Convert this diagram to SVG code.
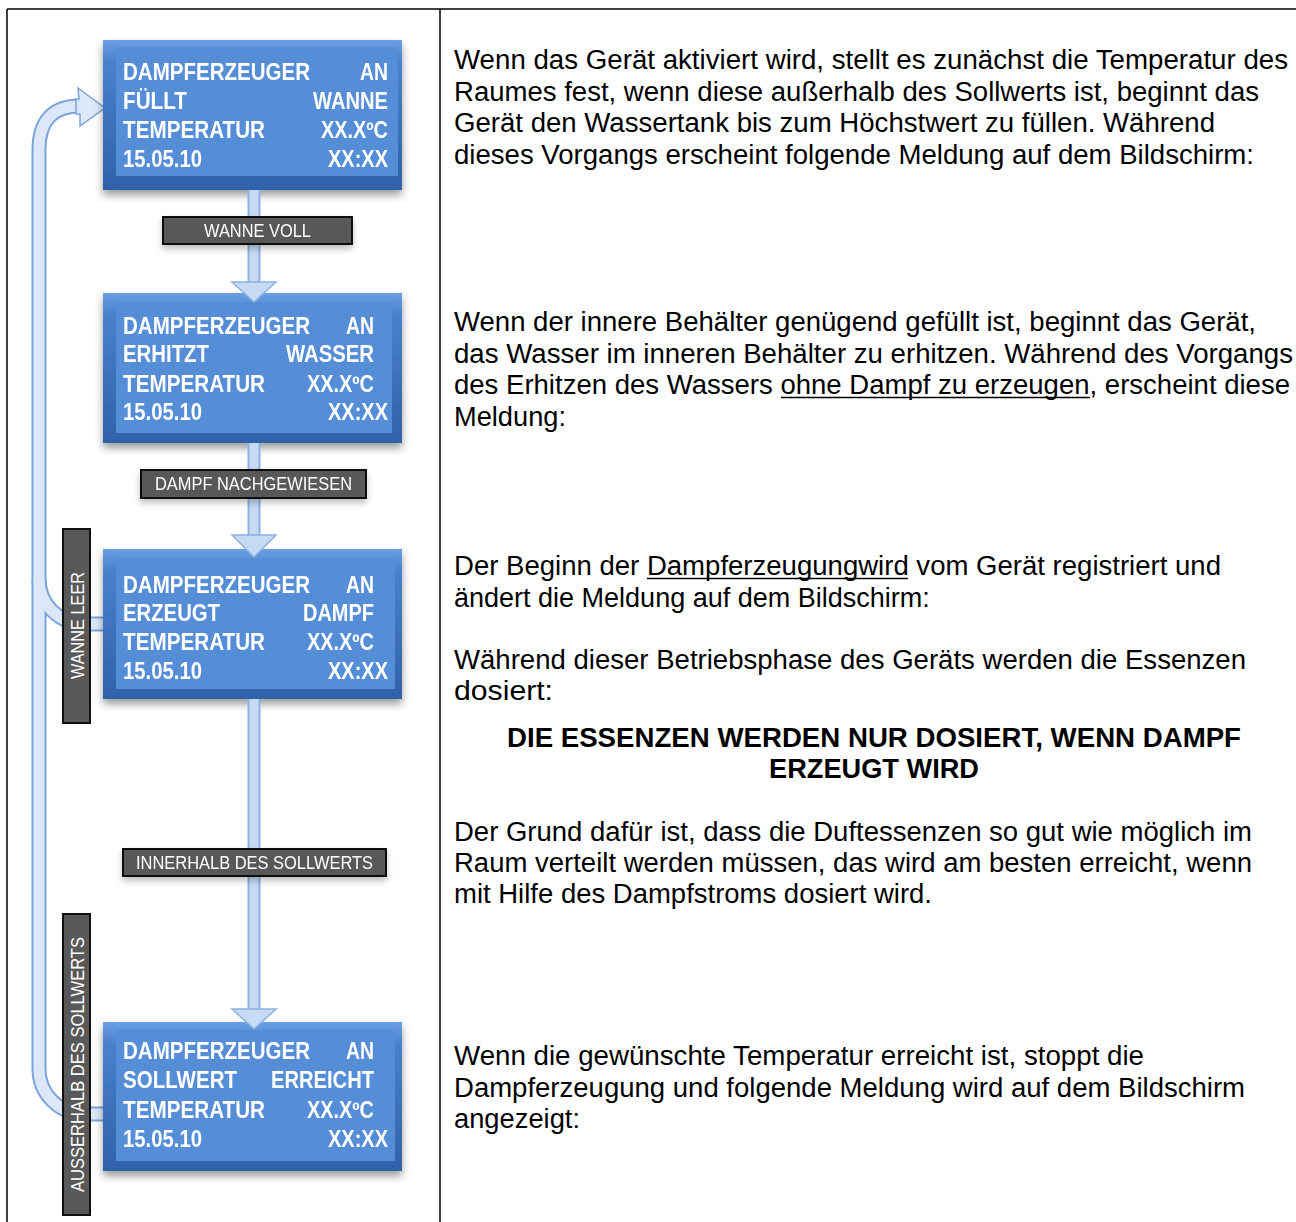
<svg xmlns="http://www.w3.org/2000/svg" width="1296" height="1222" viewBox="0 0 1296 1222">
<style>
.bx{font-family:"Liberation Sans",Arial,sans-serif;font-weight:bold;font-size:23px;fill:#ffffff}
.lb{font-family:"Liberation Sans",Arial,sans-serif;font-size:18px;fill:#ffffff}
.tx{font-family:"Liberation Sans",Arial,sans-serif;font-size:27px;fill:#000000}
.bd{font-family:"Liberation Sans",Arial,sans-serif;font-size:27px;font-weight:bold;fill:#000000}
.lbr{fill:#595959;stroke:#111111;stroke-width:2}
.grid{stroke:#000000;stroke-width:1.5;fill:none}
.tubeo{fill:none;stroke:#7ba4dc;stroke-width:15}
.tubei{fill:none;stroke:#dce8f8;stroke-width:11}
.vto{fill:none;stroke:#8db1e3;stroke-width:13}
.vti{fill:none;stroke:#c6daf3;stroke-width:9}
.head{fill:#c6daf3;stroke:#8db1e3;stroke-width:1.5}
.lhead{fill:#dce8f8;stroke:#7ba4dc;stroke-width:1.5}
.face{fill:#558dd7}
.ul{stroke:#000000;stroke-width:1.5}
</style>
<defs>
<linearGradient id="rim" x1="0" y1="0" x2="0" y2="1">
<stop offset="0" stop-color="#6a9fe2"/>
<stop offset="0.15" stop-color="#4a80cc"/>
<stop offset="1" stop-color="#2f62a8"/>
</linearGradient>
<filter id="sh" x="-10%" y="-10%" width="120%" height="130%">
<feDropShadow dx="0" dy="5" stdDeviation="4" flood-color="#000000" flood-opacity="0.4"/>
</filter>
<filter id="sh2" x="-10%" y="-30%" width="120%" height="180%">
<feDropShadow dx="0" dy="4" stdDeviation="3" flood-color="#000000" flood-opacity="0.25"/>
</filter>
</defs>
<rect width="1296" height="1222" fill="#ffffff"/>
<g id="table">
<line class="grid" x1="7" y1="9" x2="1296" y2="9"/>
<line class="grid" x1="7" y1="9" x2="7" y2="1222"/>
<line class="grid" x1="440" y1="9" x2="440" y2="1222"/>
</g>
<g id="loop">
<path class="tubeo" d="M103,624 H84 A45,45 0 0 1 39,579"/>
<path class="tubeo" d="M103,1114 H84 A45,45 0 0 1 39,1069 V150 Q39,106 80,106"/>
<path class="tubei" d="M103,624 H84 A45,45 0 0 1 39,579"/>
<path class="tubei" d="M103,1114 H84 A45,45 0 0 1 39,1069 V150 Q39,106 80,106"/>
<polygon class="lhead" points="78,88 105,108 80,126 80,114 76,114 76,99 79,99"/>
</g>
<g id="box1" filter="url(#sh)">
<rect x="103" y="40" width="299" height="150" fill="url(#rim)"/>
<rect class="face" x="116" y="47" width="282" height="129"/>
<text class="bx" x="123" y="80" textLength="187" lengthAdjust="spacingAndGlyphs">DAMPFERZEUGER</text>
<text class="bx" x="360" y="80" textLength="28" lengthAdjust="spacingAndGlyphs">AN</text>
<text class="bx" x="123" y="109" textLength="64" lengthAdjust="spacingAndGlyphs">FÜLLT</text>
<text class="bx" x="313" y="109" textLength="75" lengthAdjust="spacingAndGlyphs">WANNE</text>
<text class="bx" x="123" y="138" textLength="142" lengthAdjust="spacingAndGlyphs">TEMPERATUR</text>
<text class="bx" x="321" y="138" textLength="67" lengthAdjust="spacingAndGlyphs">XX.XºC</text>
<text class="bx" x="123" y="167" textLength="79" lengthAdjust="spacingAndGlyphs">15.05.10</text>
<text class="bx" x="328" y="167" textLength="60" lengthAdjust="spacingAndGlyphs">XX:XX</text>
</g>
<g id="box2" filter="url(#sh)">
<rect x="103" y="293" width="299" height="150" fill="url(#rim)"/>
<rect class="face" x="116" y="302" width="276" height="131"/>
<text class="bx" x="123" y="334" textLength="187" lengthAdjust="spacingAndGlyphs">DAMPFERZEUGER</text>
<text class="bx" x="346" y="334" textLength="28" lengthAdjust="spacingAndGlyphs">AN</text>
<text class="bx" x="123" y="362" textLength="86" lengthAdjust="spacingAndGlyphs">ERHITZT</text>
<text class="bx" x="286" y="362" textLength="88" lengthAdjust="spacingAndGlyphs">WASSER</text>
<text class="bx" x="123" y="392" textLength="142" lengthAdjust="spacingAndGlyphs">TEMPERATUR</text>
<text class="bx" x="307" y="392" textLength="67" lengthAdjust="spacingAndGlyphs">XX.XºC</text>
<text class="bx" x="123" y="420" textLength="79" lengthAdjust="spacingAndGlyphs">15.05.10</text>
<text class="bx" x="328" y="420" textLength="60" lengthAdjust="spacingAndGlyphs">XX:XX</text>
</g>
<g id="box3" filter="url(#sh)">
<rect x="103" y="549" width="299" height="150" fill="url(#rim)"/>
<rect class="face" x="116" y="558" width="279" height="131"/>
<text class="bx" x="123" y="593" textLength="187" lengthAdjust="spacingAndGlyphs">DAMPFERZEUGER</text>
<text class="bx" x="346" y="593" textLength="28" lengthAdjust="spacingAndGlyphs">AN</text>
<text class="bx" x="123" y="621" textLength="97" lengthAdjust="spacingAndGlyphs">ERZEUGT</text>
<text class="bx" x="303" y="621" textLength="71" lengthAdjust="spacingAndGlyphs">DAMPF</text>
<text class="bx" x="123" y="650" textLength="142" lengthAdjust="spacingAndGlyphs">TEMPERATUR</text>
<text class="bx" x="307" y="650" textLength="67" lengthAdjust="spacingAndGlyphs">XX.XºC</text>
<text class="bx" x="123" y="679" textLength="79" lengthAdjust="spacingAndGlyphs">15.05.10</text>
<text class="bx" x="328" y="679" textLength="60" lengthAdjust="spacingAndGlyphs">XX:XX</text>
</g>
<g id="box4" filter="url(#sh)">
<rect x="103" y="1022" width="299" height="149" fill="url(#rim)"/>
<rect class="face" x="116" y="1030" width="279" height="131"/>
<text class="bx" x="123" y="1059" textLength="187" lengthAdjust="spacingAndGlyphs">DAMPFERZEUGER</text>
<text class="bx" x="346" y="1059" textLength="28" lengthAdjust="spacingAndGlyphs">AN</text>
<text class="bx" x="123" y="1088" textLength="114" lengthAdjust="spacingAndGlyphs">SOLLWERT</text>
<text class="bx" x="271" y="1088" textLength="103" lengthAdjust="spacingAndGlyphs">ERREICHT</text>
<text class="bx" x="123" y="1118" textLength="142" lengthAdjust="spacingAndGlyphs">TEMPERATUR</text>
<text class="bx" x="307" y="1118" textLength="67" lengthAdjust="spacingAndGlyphs">XX.XºC</text>
<text class="bx" x="123" y="1147" textLength="79" lengthAdjust="spacingAndGlyphs">15.05.10</text>
<text class="bx" x="328" y="1147" textLength="60" lengthAdjust="spacingAndGlyphs">XX:XX</text>
</g>
<g id="connectors">
<path class="vto" d="M254,190 V283"/>
<path class="vti" d="M254,190 V283"/>
<polygon class="head" points="232,282 276,282 254,302"/>
<path class="vto" d="M254,443 V536"/>
<path class="vti" d="M254,443 V536"/>
<polygon class="head" points="232,535 276,535 254,557"/>
<path class="vto" d="M254,699 V1010"/>
<path class="vti" d="M254,699 V1010"/>
<polygon class="head" points="232,1009 276,1009 254,1029"/>
</g>
<g id="label-wanne-voll" filter="url(#sh2)">
<rect class="lbr" x="163" y="217" width="189" height="27"/>
<text class="lb" x="257.5" y="237" text-anchor="middle" textLength="107" lengthAdjust="spacingAndGlyphs">WANNE VOLL</text>
</g>
<g id="label-dampf-nachgewiesen" filter="url(#sh2)">
<rect class="lbr" x="141" y="470" width="225" height="28"/>
<text class="lb" x="253.5" y="490" text-anchor="middle" textLength="197" lengthAdjust="spacingAndGlyphs">DAMPF NACHGEWIESEN</text>
</g>
<g id="label-innerhalb" filter="url(#sh2)">
<rect class="lbr" x="123" y="849" width="263" height="27"/>
<text class="lb" x="254.5" y="869" text-anchor="middle" textLength="237" lengthAdjust="spacingAndGlyphs">INNERHALB DES SOLLWERTS</text>
</g>
<g id="label-wanne-leer">
<rect class="lbr" x="63" y="529" width="27" height="194"/>
<text class="lb" transform="translate(84,625.5) rotate(-90)" x="0" y="0" text-anchor="middle" textLength="107" lengthAdjust="spacingAndGlyphs">WANNE LEER</text>
</g>
<g id="label-ausserhalb">
<rect class="lbr" x="63" y="914" width="27" height="301"/>
<text class="lb" transform="translate(84,1064.5) rotate(-90)" x="0" y="0" text-anchor="middle" textLength="255" lengthAdjust="spacingAndGlyphs">AUSSERHALB DES SOLLWERTS</text>
</g>
<g id="text-right">
<text class="tx" x="454" y="69" textLength="834" lengthAdjust="spacingAndGlyphs">Wenn das Gerät aktiviert wird, stellt es zunächst die Temperatur des</text>
<text class="tx" x="454" y="101" textLength="805" lengthAdjust="spacingAndGlyphs">Raumes fest, wenn diese außerhalb des Sollwerts ist, beginnt das</text>
<text class="tx" x="454" y="132" textLength="761" lengthAdjust="spacingAndGlyphs">Gerät den Wassertank bis zum Höchstwert zu füllen. Während</text>
<text class="tx" x="454" y="164" textLength="800" lengthAdjust="spacingAndGlyphs">dieses Vorgangs erscheint folgende Meldung auf dem Bildschirm:</text>

<text class="tx" x="454" y="331" textLength="802" lengthAdjust="spacingAndGlyphs">Wenn der innere Behälter genügend gefüllt ist, beginnt das Gerät,</text>
<text class="tx" x="454" y="363" textLength="839" lengthAdjust="spacingAndGlyphs">das Wasser im inneren Behälter zu erhitzen. Während des Vorgangs</text>
<text class="tx" x="454" y="394" textLength="836" lengthAdjust="spacingAndGlyphs">des Erhitzen des Wassers ohne Dampf zu erzeugen, erscheint diese</text>
<line class="ul" x1="781" y1="397.5" x2="1090" y2="397.5"/>
<text class="tx" x="454" y="426" textLength="112" lengthAdjust="spacingAndGlyphs">Meldung:</text>

<text class="tx" x="454" y="575" textLength="767" lengthAdjust="spacingAndGlyphs">Der Beginn der Dampferzeugungwird vom Gerät registriert und</text>
<line class="ul" x1="647" y1="578.5" x2="908" y2="578.5"/>
<text class="tx" x="454" y="607">ändert die Meldung auf dem Bildschirm:</text>

<text class="tx" x="454" y="669" textLength="792" lengthAdjust="spacingAndGlyphs">Während dieser Betriebsphase des Geräts werden die Essenzen</text>
<text class="tx" x="454" y="700" textLength="99" lengthAdjust="spacingAndGlyphs">dosiert:</text>

<text class="bd" x="874" y="747" text-anchor="middle" textLength="734" lengthAdjust="spacingAndGlyphs">DIE ESSENZEN WERDEN NUR DOSIERT, WENN DAMPF</text>
<text class="bd" x="874" y="778" text-anchor="middle" textLength="210" lengthAdjust="spacingAndGlyphs">ERZEUGT WIRD</text>

<text class="tx" x="454" y="841" textLength="798" lengthAdjust="spacingAndGlyphs">Der Grund dafür ist, dass die Duftessenzen so gut wie möglich im</text>
<text class="tx" x="454" y="872" textLength="798" lengthAdjust="spacingAndGlyphs">Raum verteilt werden müssen, das wird am besten erreicht, wenn</text>
<text class="tx" x="454" y="903" textLength="478" lengthAdjust="spacingAndGlyphs">mit Hilfe des Dampfstroms dosiert wird.</text>

<text class="tx" x="454" y="1065" textLength="690" lengthAdjust="spacingAndGlyphs">Wenn die gewünschte Temperatur erreicht ist, stoppt die</text>
<text class="tx" x="454" y="1097" textLength="791" lengthAdjust="spacingAndGlyphs">Dampferzeugung und folgende Meldung wird auf dem Bildschirm</text>
<text class="tx" x="454" y="1128" textLength="126" lengthAdjust="spacingAndGlyphs">angezeigt:</text>
</g>
</svg>
